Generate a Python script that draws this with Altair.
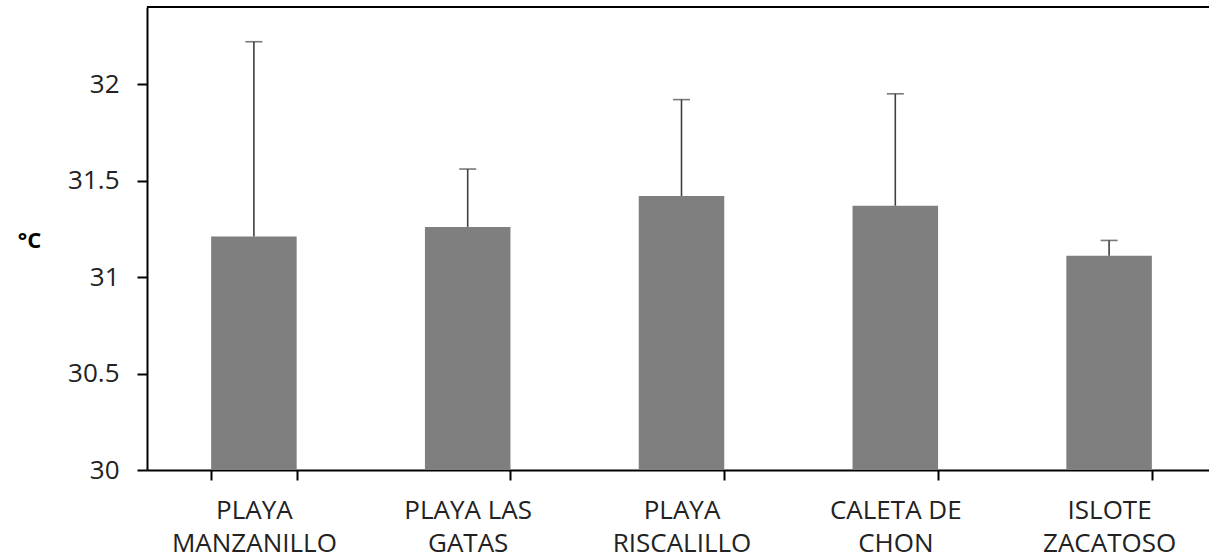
import altair as alt
import pandas as pd

# Mean water temperature per site with the upper standard deviation
sites = ["PLAYA|MANZANILLO", "PLAYA LAS|GATAS", "PLAYA|RISCALILLO", "CALETA DE|CHON", "ISLOTE|ZACATOSO"]
means = [31.21, 31.26, 31.42, 31.37, 31.11]
sd = [1.01, 0.30, 0.50, 0.58, 0.08]

df = pd.DataFrame({"site": sites, "mean": means, "sd": sd})
df["upper"] = df["mean"] + df["sd"]

FONT = "Open Sans"
PLOT_W = 1062
PLOT_H = 463
Y_MIN = 30

x_scale = alt.Scale(domain=sites, range=[0, 1069], paddingInner=0.6, paddingOuter=0.3)
y_scale = alt.Scale(domain=[Y_MIN, 32.4], nice=False, zero=False)

x_enc = alt.X(
    "site:N",
    scale=x_scale,
    sort=None,
    axis=alt.Axis(
        title=None,
        labelAngle=0,
        labelExpr="split(datum.label, '|')",
        labelFont=FONT,
        labelFontSize=26,
        labelColor="#222222",
        labelLineHeight=33,
        labelPadding=17,
        tickBand="extent",
        tickSize=10,
        tickWidth=2,
        tickColor="black",
        domainColor="black",
        domainWidth=2,
        grid=False,
    ),
)

y_axis = alt.Axis(
    title="°C",
    titleAngle=0,
    titleFont=FONT,
    titleFontSize=22,
    titleFontWeight="bold",
    titleColor="black",
    titleAlign="center",
    titleBaseline="middle",
    titleX=-118,
    titleY=233,
    values=[30, 30.5, 31, 31.5, 32],
    format="~g",
    labelFont=FONT,
    labelFontSize=26,
    labelColor="#222222",
    labelPadding=18,
    tickSize=10,
    tickWidth=2,
    tickColor="black",
    domainColor="black",
    domainWidth=2,
    grid=False,
)

base = alt.Chart(df)

bars = base.mark_bar(color="#7f7f7f").encode(
    x=x_enc,
    y=alt.Y("mean:Q", scale=y_scale, axis=y_axis),
    y2=alt.datum(Y_MIN),
)

whisker = base.mark_rule(color="#404040", strokeWidth=1.6).encode(
    x=alt.X("site:N", scale=x_scale, sort=None),
    y=alt.Y("mean:Q", scale=y_scale),
    y2="upper:Q",
)

cap = base.mark_tick(color="#404040", thickness=1.6, size=17, orient="horizontal").encode(
    x=alt.X("site:N", scale=x_scale, sort=None),
    y=alt.Y("upper:Q", scale=y_scale),
)

top_border = alt.Chart(pd.DataFrame({"k": [0]})).mark_rule(
    color="black", strokeWidth=2
).encode(
    x=alt.value(0),
    x2=alt.value(1069),
    y=alt.value(0),
)

chart = (
    alt.layer(bars, whisker, cap, top_border)
    .properties(
        width=PLOT_W,
        height=PLOT_H,
        autosize=alt.AutoSizeParams(type="none"),
        padding={"left": 147, "top": 7, "right": 0, "bottom": 86},
        background="white",
    )
    .configure_view(stroke=None)
)

chart.save("out.html", embed_options={"renderer": "svg", "actions": False})
